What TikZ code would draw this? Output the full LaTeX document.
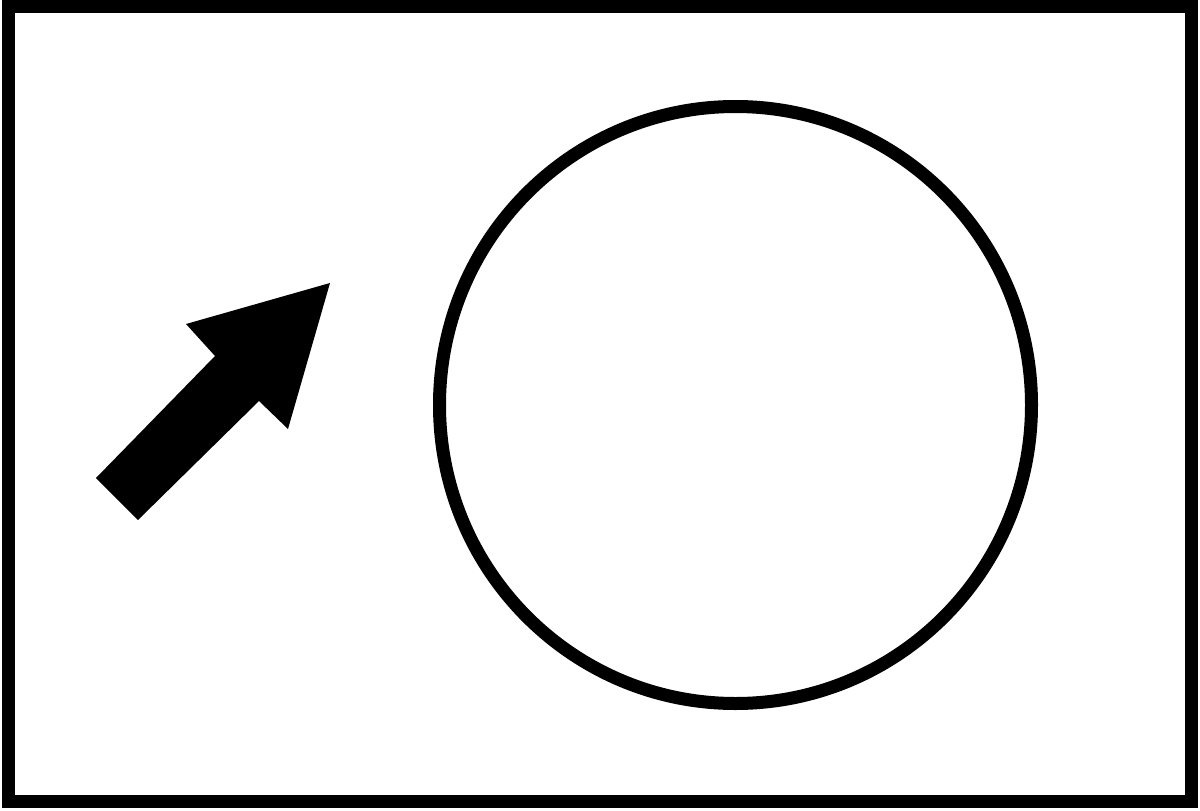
\documentclass[tikz,border=0pt]{standalone}
\begin{document}
\begin{tikzpicture}[x=1pt,y=-1pt,
  frame/.style={draw=black,line width=13.5pt},
  ring/.style={draw=black,line width=13pt},
  bigarrow/.style={fill=black,draw=none}]
\useasboundingbox (0,0) rectangle (1200,811);
\fill[white] (0,0) rectangle (1200,811);
\draw[frame] (8.5,6.5) rectangle (1191.5,801.5);
\coordinate (c) at (735.5,405);
\draw[ring] (c) ellipse [x radius=296, y radius=298.5];
\fill[bigarrow] (330,283) -- (288,429) -- (259,401) -- (138,520) -- (96,478) -- (215,356) -- (186,324) -- cycle;
\end{tikzpicture}
\end{document}
